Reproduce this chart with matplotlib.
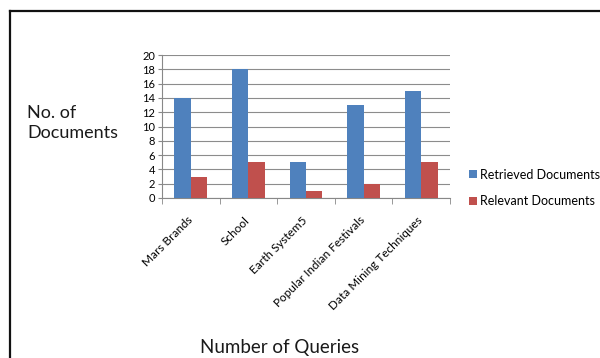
import matplotlib
matplotlib.use("Agg")
import matplotlib.pyplot as plt
import matplotlib.transforms as mtransforms
from matplotlib.lines import Line2D
import numpy as np

plt.rcParams['font.family'] = ['Lato', 'DejaVu Sans']

queries = ["Mars Brands", "School", "Earth System5", "Popular Indian Festivals",
           "Data Mining Techniques"]
retrieved = [14, 18, 5, 13, 15]
relevant = [3, 5, 1, 2, 5]
series_names = ["Retrieved Documents", "Relevant Documents"]
colors = ["#4F81BD", "#C0504D"]
y_ticks = list(range(0, 21, 2))

fig = plt.figure(figsize=(6.0, 3.58), dpi=100)
ax = fig.add_axes([0.27, 0.447, 0.48, 0.399])

x = np.arange(len(queries))
w = 0.285
b1 = ax.bar(x - w / 2, retrieved, width=w, color=colors[0], label=series_names[0], zorder=3)
b2 = ax.bar(x + w / 2, relevant, width=w, color=colors[1], label=series_names[1], zorder=3)

ax.set_xlim(-0.5, len(queries) - 0.5)
ax.set_ylim(0, 20)
ax.set_yticks(y_ticks)
ax.yaxis.grid(True, color="#8c8c8c", linewidth=0.8, zorder=0)
ax.set_axisbelow(True)
ax.tick_params(axis="y", labelsize=8, length=3, color="#888888", pad=2)

# category labels under each group, category-boundary tick marks
ax.set_xticks(x)
ax.set_xticklabels(queries, rotation=45, ha="right", rotation_mode="anchor", fontsize=8.5)
ax.tick_params(axis="x", length=0, pad=12)
shift = mtransforms.ScaledTranslation(-4 / 100, 0, fig.dpi_scale_trans)
for lbl in ax.get_xticklabels():
    lbl.set_transform(lbl.get_transform() + shift)
ax.set_xticks(np.arange(-0.5, len(queries), 1.0), minor=True)
ax.tick_params(axis="x", which="minor", length=4, color="#888888")

for side in ("top", "right"):
    ax.spines[side].set_visible(False)
for side in ("left", "bottom"):
    ax.spines[side].set_color("#888888")
    ax.spines[side].set_linewidth(0.8)

fig.text(27 / 600, 1 - 123 / 358, "No. of\nDocuments", fontsize=13, ha="left",
         va="center", linespacing=1.35, color="#1a1a1a")
fig.text(280 / 600, 1 - 347 / 358, "Number of Queries", fontsize=13.5, ha="center",
         va="center", color="#1a1a1a")

fig.legend(handles=[b1, b2], labels=series_names, loc="center left",
           bbox_to_anchor=(469 / 600, 1 - 188 / 358), frameon=False, fontsize=9,
           handlelength=0.6, handleheight=0.6, handletextpad=0.3, labelspacing=1.15,
           borderaxespad=0, borderpad=0)

# chart frame
fig.add_artist(Line2D([10 / 600, 10 / 600], [0, 1 - 10.5 / 358], transform=fig.transFigure,
                      color="#111111", linewidth=1.6))
fig.add_artist(Line2D([10 / 600, 1], [1 - 10.5 / 358, 1 - 10.5 / 358], transform=fig.transFigure,
                      color="#111111", linewidth=1.6))

fig.savefig("out.png", dpi=100, facecolor="white")
